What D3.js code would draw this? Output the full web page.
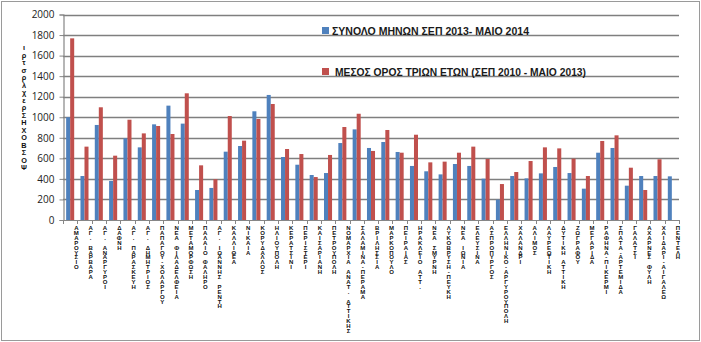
<!DOCTYPE html>
<html>
<head>
<meta charset="utf-8">
<script src="https://cdn.jsdelivr.net/npm/d3@7"></script>
<style>
  html, body { margin: 0; padding: 0; background: #fff; }
  svg { display: block; }
</style>
</head>
<body>
<svg id="chart" width="701" height="342"></svg>
<script>
// Δήμοι / περιοχές
const categories = [
  "ΑΜΑΡΟΥΣΙΟ", "ΑΓ. ΒΑΡΒΑΡΑ", "ΑΓ. ΑΝΑΡΓΥΡΟΙ", "ΔΑΦΝΗ", "ΑΓ. ΠΑΡΑΣΚΕΥΗ",
  "ΑΓ. ΔΗΜΗΤΡΙΟΣ", "ΠΑΠΑΓΟΥ-ΧΟΛΑΡΓΟΥ", "ΝΕΑ ΦΙΛΑΔΕΛΦΕΙΑ", "ΜΕΤΑΜΟΡΦΩΣΗ", "ΠΑΛΑΙΟ ΦΑΛΗΡΟ",
  "ΑΓ. ΙΩΑΝΝΗΣ ΡΕΝΤΗ", "ΚΑΛΛΙΘΕΑ", "ΝΙΚΑΙΑ", "ΚΟΡΥΔΑΛΛΟΣ", "ΗΛΙΟΥΠΟΛΗ",
  "ΚΕΡΑΤΣΙΝΙ", "ΠΕΡΙΣΤΕΡΙ", "ΚΑΙΣΑΡΙΑΝΗ", "ΠΕΤΡΟΥΠΟΛΗ", "ΝΟΜΑΡΧΙΑ ΑΝΑΤ. ΑΤΤΙΚΗΣ",
  "ΣΑΛΑΜΙΝΑ-ΠΕΡΑΜΑ", "ΒΡΙΛΗΣΣΙΑ", "ΜΑΡΚΟΠΟΥΛΟ", "ΠΕΙΡΑΙΑΣ", "ΗΡΑΚΛΕΙΟ ΑΤΤ.",
  "ΝΕΑ ΣΜΥΡΝΗ", "ΛΥΚΟΒΡΥΣΗ-ΠΕΥΚΗ", "ΝΕΑ ΙΩΝΙΑ", "ΕΛΕΥΣΙΝΑ", "ΑΣΠΡΟΠΥΡΓΟΣ",
  "ΕΛΛΗΝΙΚΟ-ΑΡΓΥΡΟΥΠΟΛΗ", "ΧΑΛΑΝΔΡΙ", "ΑΛΙΜΟΣ", "ΛΑΥΡΕΩΤΙΚΗ", "ΔΥΤΙΚΗ ΑΤΤΙΚΗ",
  "ΖΩΓΡΑΦΟΥ", "ΜΕΓΑΡΙΔΑ", "ΡΑΦΗΝΑ-ΠΙΚΕΡΜΙ", "ΣΠΑΤΑ-ΑΡΤΕΜΙΔΑ", "ΓΑΛΑΤΣΙ",
  "ΑΧΑΡΝΕΣ ΦΥΛΗ", "ΧΑΙΔΑΡΙ-ΑΙΓΑΛΕΩ", "ΠΕΝΤΕΛΗ"
];

// Σύνολο μηνών Σεπ 2013 - Μάιο 2014
const current = [
  1000, 428, 925, 380, 795, 707, 931, 1113, 938, 292,
  312, 665, 720, 1058, 1217, 613, 538, 438, 457, 749,
  882, 701, 759, 662, 526, 474, 444, 545, 526, 402,
  198, 428, 405, 454, 516, 457, 305, 655, 701, 334,
  428, 428, 425
];

// Μέσος όρος τριών ετών (Σεπ 2010 - Μάιο 2013)
const average = [
  1768, 714, 1097, 626, 976, 843, 915, 837, 1233, 532,
  397, 1012, 772, 983, 1129, 691, 642, 418, 633, 905,
  1034, 672, 876, 655, 830, 561, 568, 655, 714, 594,
  350, 467, 574, 707, 697, 597, 428, 769, 824, 509,
  292, 591, null
];

const yTicks = [0, 200, 400, 600, 800, 1000, 1200, 1400, 1600, 1800, 2000];

const seriesNames = [
  "ΣΥΝΟΛΟ ΜΗΝΩΝ ΣΕΠ 2013- ΜΑΙΟ 2014",
  "ΜΕΣΟΣ ΟΡΟΣ ΤΡΙΩΝ ΕΤΩΝ (ΣΕΠ 2010 - ΜΑΙΟ 2013)"
];
const seriesColors = ["#4F81BD", "#C0504D"];

const yTitle = "ιρτσρλχερΣΗΧΟΒΣΟΨ";

const svg = d3.select("#chart");
const W = 701, H = 342;
const plot = { left: 63, right: 679, top: 14.5, bottom: 220 };

// outer frame
svg.append("rect")
  .attr("x", 1.5).attr("y", 1.5)
  .attr("width", W - 3).attr("height", H - 3)
  .attr("fill", "#fff").attr("stroke", "#9a9a9a").attr("stroke-width", 1);

const x = d3.scaleBand()
  .domain(d3.range(categories.length))
  .range([plot.left, plot.right])
  .paddingInner(0).paddingOuter(0);

const inner = d3.scaleBand()
  .domain([0, 1])
  .range([0, x.bandwidth()])
  .paddingInner(0)
  .paddingOuter(0.78);

const y = d3.scaleLinear().domain([0, 2000]).range([plot.bottom, plot.top]);

// gridlines
svg.append("g")
  .selectAll("line")
  .data(yTicks.filter(d => d > 0))
  .join("line")
  .attr("x1", plot.left).attr("x2", plot.right)
  .attr("y1", d => Math.round(y(d)) + 0.5).attr("y2", d => Math.round(y(d)) + 0.5)
  .attr("stroke", "#7f7f7f").attr("stroke-width", 1.5);

// bars
const groups = svg.append("g")
  .selectAll("g")
  .data(categories.map((c, i) => ({ i, vals: [current[i], average[i]] })))
  .join("g")
  .attr("transform", d => `translate(${x(d.i)},0)`);

groups.selectAll("rect")
  .data(d => d.vals.map((v, s) => ({ v, s })).filter(e => e.v != null))
  .join("rect")
  .attr("x", e => inner(e.s))
  .attr("width", inner.bandwidth())
  .attr("y", e => y(e.v))
  .attr("height", e => y(0) - y(e.v))
  .attr("fill", e => seriesColors[e.s]);

// y axis
const yAxis = svg.append("g")
  .attr("transform", `translate(${plot.left + 0.5},0)`)
  .call(d3.axisLeft(y).tickValues(yTicks).tickSize(4).tickPadding(5).tickFormat(d3.format("d")));
yAxis.select(".domain").attr("stroke", "#868686").attr("stroke-width", 1.2);
yAxis.selectAll(".tick line").attr("stroke", "#868686");
yAxis.selectAll(".tick text")
  .attr("font-family", "'Open Sans', 'Liberation Sans', sans-serif")
  .attr("font-size", 10).attr("fill", "#222");

// x axis: ticks between categories
const xAxisG = svg.append("g");
xAxisG.append("line")
  .attr("x1", plot.left).attr("x2", plot.right)
  .attr("y1", plot.bottom + 0.5).attr("y2", plot.bottom + 0.5)
  .attr("stroke", "#868686").attr("stroke-width", 1.2);
xAxisG.selectAll("line.tk")
  .data(d3.range(categories.length + 1))
  .join("line")
  .attr("class", "tk")
  .attr("x1", i => Math.round(plot.left + i * x.step()) + 0.5)
  .attr("x2", i => Math.round(plot.left + i * x.step()) + 0.5)
  .attr("y1", plot.bottom).attr("y2", plot.bottom + 4)
  .attr("stroke", "#868686");

// vertical stacked category labels
const step = 4.9;
xAxisG.selectAll("text.cat")
  .data(categories)
  .join("text")
  .attr("class", "cat")
  .attr("font-family", "'Liberation Sans Narrow', 'Liberation Sans', sans-serif")
  .attr("font-size", 6)
  .attr("font-weight", "bold")
  .attr("fill", "#111")
  .attr("text-anchor", "middle")
  .each(function (name, i) {
    const cx = x(i) + x.bandwidth() - 1;
    const t = d3.select(this);
    Array.from(name).forEach((ch, k) => {
      t.append("tspan")
        .attr("x", cx)
        .attr("y", 230 + k * step)
        .text(ch === " " ? "\u00a0" : ch);
    });
  });

// y title, stacked characters
const yt = svg.append("text")
  .attr("font-family", "'Liberation Sans', sans-serif")
  .attr("font-size", 7.3)
  .attr("font-weight", "bold")
  .attr("fill", "#111")
  .attr("text-anchor", "middle");
Array.from(yTitle).forEach((ch, k) => {
  yt.append("tspan").attr("x", 24).attr("y", 50 + k * 7.5).text(ch);
});

// legend
const legendY = [35, 76];
seriesNames.forEach((name, s) => {
  svg.append("rect")
    .attr("x", 322).attr("y", legendY[s] - 8)
    .attr("width", 7).attr("height", 7)
    .attr("fill", seriesColors[s]);
  svg.append("text")
    .attr("x", s === 0 ? 332 : 335)
    .attr("y", legendY[s])
    .attr("font-family", "'Liberation Sans', sans-serif")
    .attr("font-size", 11.5)
    .attr("font-weight", "bold")
    .attr("fill", "#1a1a1a")
    .attr("textLength", s === 0 ? 197 : 251)
    .attr("lengthAdjust", "spacingAndGlyphs")
    .text(name);
});
</script>
</body>
</html>
